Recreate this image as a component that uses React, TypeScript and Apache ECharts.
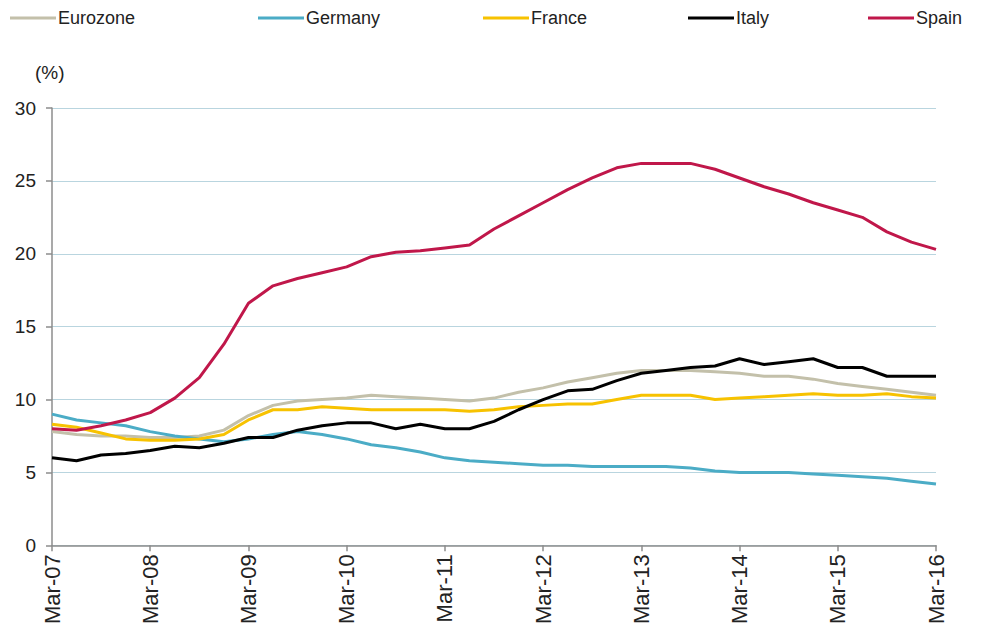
import React, { useEffect, useRef } from "react";
import * as echarts from "echarts";

const quarters = [
  "Mar-07", "Jun-07", "Sep-07", "Dec-07",
  "Mar-08", "Jun-08", "Sep-08", "Dec-08",
  "Mar-09", "Jun-09", "Sep-09", "Dec-09",
  "Mar-10", "Jun-10", "Sep-10", "Dec-10",
  "Mar-11", "Jun-11", "Sep-11", "Dec-11",
  "Mar-12", "Jun-12", "Sep-12", "Dec-12",
  "Mar-13", "Jun-13", "Sep-13", "Dec-13",
  "Mar-14", "Jun-14", "Sep-14", "Dec-14",
  "Mar-15", "Jun-15", "Sep-15", "Dec-15",
  "Mar-16",
];

const eurozone = [7.8, 7.6, 7.5, 7.5, 7.4, 7.4, 7.5, 7.9, 8.9, 9.6, 9.9, 10.0, 10.1, 10.3, 10.2, 10.1, 10.0, 9.9, 10.1, 10.5, 10.8, 11.2, 11.5, 11.8, 12.0, 12.0, 12.0, 11.9, 11.8, 11.6, 11.6, 11.4, 11.1, 10.9, 10.7, 10.5, 10.3];
const germany = [9.0, 8.6, 8.4, 8.2, 7.8, 7.5, 7.3, 7.1, 7.3, 7.6, 7.8, 7.6, 7.3, 6.9, 6.7, 6.4, 6.0, 5.8, 5.7, 5.6, 5.5, 5.5, 5.4, 5.4, 5.4, 5.4, 5.3, 5.1, 5.0, 5.0, 5.0, 4.9, 4.8, 4.7, 4.6, 4.4, 4.2];
const france = [8.3, 8.1, 7.7, 7.3, 7.2, 7.2, 7.3, 7.6, 8.6, 9.3, 9.3, 9.5, 9.4, 9.3, 9.3, 9.3, 9.3, 9.2, 9.3, 9.5, 9.6, 9.7, 9.7, 10.0, 10.3, 10.3, 10.3, 10.0, 10.1, 10.2, 10.3, 10.4, 10.3, 10.3, 10.4, 10.2, 10.1];
const italy = [6.0, 5.8, 6.2, 6.3, 6.5, 6.8, 6.7, 7.0, 7.4, 7.4, 7.9, 8.2, 8.4, 8.4, 8.0, 8.3, 8.0, 8.0, 8.5, 9.3, 10.0, 10.6, 10.7, 11.3, 11.8, 12.0, 12.2, 12.3, 12.8, 12.4, 12.6, 12.8, 12.2, 12.2, 11.6, 11.6, 11.6];
const spain = [8.0, 7.9, 8.2, 8.6, 9.1, 10.1, 11.5, 13.8, 16.6, 17.8, 18.3, 18.7, 19.1, 19.8, 20.1, 20.2, 20.4, 20.6, 21.7, 22.6, 23.5, 24.4, 25.2, 25.9, 26.2, 26.2, 26.2, 25.8, 25.2, 24.6, 24.1, 23.5, 23.0, 22.5, 21.5, 20.8, 20.3];

const seriesNames = ["Eurozone", "Germany", "France", "Italy", "Spain"];
const seriesColors = ["#c3c0aa", "#4bacc6", "#f7c200", "#000000", "#c0174a"];
const seriesData = [eurozone, germany, france, italy, spain];
const legendLeft = [2, 250, 475, 680, 860];

const FONT = "'Liberation Sans', Arial, sans-serif";

export default function App() {
  const ref = useRef<HTMLDivElement>(null);
  useEffect(() => {
    if (!ref.current) return;
    const chart = echarts.init(ref.current, undefined, { renderer: "svg" });
    chart.setOption({
      animation: false,
      backgroundColor: "#ffffff",
      legend: seriesNames.map((n, i) => ({
        data: [n],
        left: legendLeft[i],
        top: 1,
        padding: 0,
        icon: "rect",
        itemWidth: 46,
        itemHeight: 3,
        itemGap: 2,
        textStyle: { fontFamily: FONT, fontSize: 18, color: "#222", padding: [0, 0, 0, -3] },
      })),
      graphic: [
        {
          type: "text",
          left: 27,
          top: 55,
          style: { text: "(%)", font: `19px ${FONT}`, fill: "#222" },
        },
      ],
      grid: { left: 44, right: 37, top: 100, bottom: 77, containLabel: false },
      xAxis: {
        type: "category",
        data: quarters,
        boundaryGap: false,
        axisLine: { lineStyle: { color: "#8c8c8c", width: 1.5 } },
        axisTick: { show: true, interval: 3, length: 6, lineStyle: { color: "#8c8c8c", width: 1.5 } },
        axisLabel: {
          interval: 3,
          rotate: 90,
          fontFamily: FONT,
          fontSize: 22,
          color: "#222",
          margin: 9,
        },
        splitLine: { show: false },
      },
      yAxis: {
        type: "value",
        min: 0,
        max: 30,
        interval: 5,
        axisLine: { show: true, lineStyle: { color: "#8c8c8c", width: 1.5 } },
        axisTick: { show: true, length: 6, lineStyle: { color: "#8c8c8c", width: 1.5 } },
        axisLabel: { fontFamily: FONT, fontSize: 19, color: "#222", margin: 16 },
        splitLine: { show: true, lineStyle: { color: "#b9d5df", width: 1.2 } },
      },
      series: seriesNames.map((n, i) => ({
        name: n,
        type: "line",
        data: seriesData[i],
        symbol: "none",
        smooth: false,
        color: seriesColors[i],
        lineStyle: { width: 3, color: seriesColors[i] },
      })),
    });
    return () => chart.dispose();
  }, []);
  return <div ref={ref} style={{ width: 965, height: 619 }} />;
}
